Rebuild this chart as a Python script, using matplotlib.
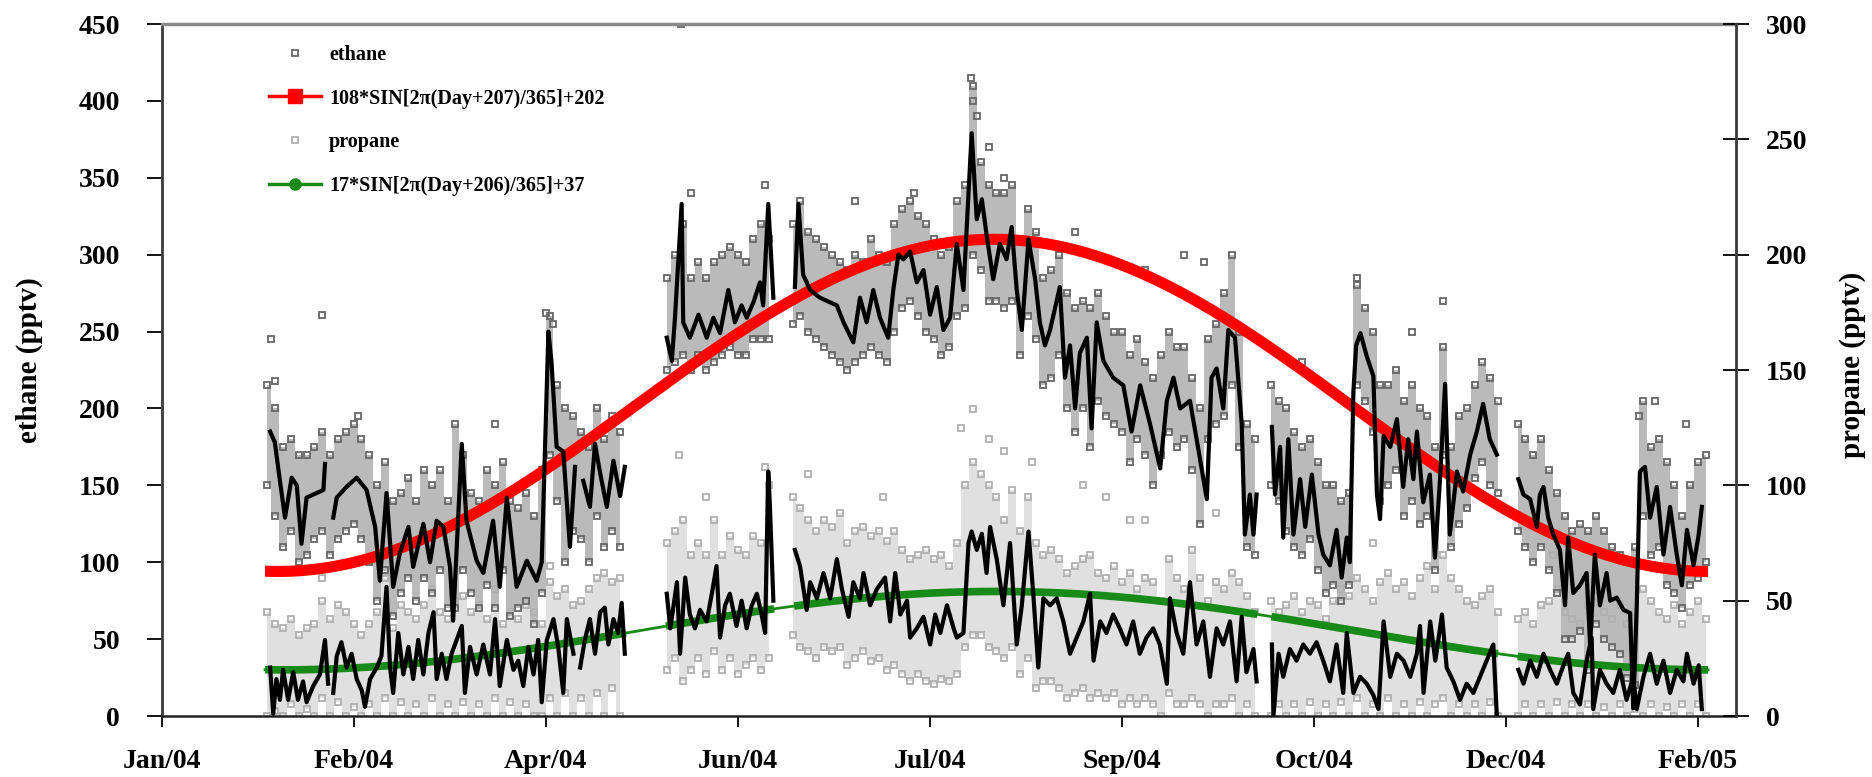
import numpy as np
import matplotlib
matplotlib.use('Agg')
import matplotlib.pyplot as plt
from matplotlib.lines import Line2D

plt.rcParams['font.family'] = 'Liberation Serif'
plt.rcParams['font.weight'] = 'bold'

nan = np.nan

# x = day of year 2004 (1 = Jan 1); Excel serial day = 37986 + day
tick_labels = ['Jan/04', 'Feb/04', 'Apr/04', 'Jun/04', 'Jul/04', 'Sep/04', 'Oct/04', 'Dec/04', 'Feb/05']
tick_start = 11
tick_step = 49
x_max = 412.6
excel_offset = 37986

# measurement periods (first day, last day)
segments = [(37.4, 129.5), (139.7, 167.3), (172.4, 290.6), (294.2, 352.0), (357.0, 405.6)]

# seasonal fits from the legend: amp*SIN[2pi(Day+phase)/365]+mean
eth_fit = (108, 207, 202)
pro_fit = (17, 206, 37)

# ethane running mean (pptv, left axis)
eth_day = [38.7, 39.9, 41.2, 42.5, 44.2, 45.5, 46.7, 48.0, 50.6, 52.3,
           52.7, 53.5, 54.8, 55.7, 58.2, 60.8, 63.3, 65.5, 66.7, 68.4,
           70.1, 71.8, 74.0, 75.2, 77.8, 79.5, 81.2, 82.9, 84.6, 85.4,
           87.6, 88.8, 91.4, 93.1, 95.6, 97.3, 99.1, 101.6, 104.2, 106.7,
           108.0, 109.7, 110.5, 111.8, 113.5, 115.2, 116.5, 117.5, 118.6, 120.3,
           121.6, 122.9, 124.6, 126.3, 128.0, 129.2, 134.0,
           139.9, 141.2, 142.0, 143.7, 144.1, 145.8, 148.0, 150.1, 151.8, 153.5,
           155.6, 157.3, 159.0, 160.3, 162.0, 163.7, 164.5, 165.8, 167.1, 170.0,
           172.6, 173.5, 174.7, 176.5, 179.0, 181.6, 183.3, 185.0, 187.5, 189.2,
           190.9, 192.6, 194.3, 196.4, 197.7, 199.0, 200.3, 202.0, 203.7, 205.4,
           207.1, 208.8, 210.5, 212.2, 213.9, 215.6, 217.7, 219.0, 220.3, 221.5,
           223.2, 224.9, 226.6, 227.9, 229.2, 230.5, 232.2, 233.9, 235.1, 236.4,
           237.7, 240.2, 241.5, 242.8, 244.1, 245.3, 247.1, 248.3, 249.6, 251.3,
           253.8, 256.4, 258.5, 260.7, 263.2, 265.8, 267.5, 269.2, 270.9, 273.4,
           275.5, 277.7, 278.9, 280.2, 281.9, 283.2, 284.9, 286.6, 287.4, 288.7,
           289.6, 290.4, 292.0,
           294.3, 295.1, 296.4, 297.2, 298.5, 299.8, 301.5, 302.8, 304.5, 306.2,
           307.4, 309.1, 310.8, 312.1, 313.4, 314.2, 315.1, 315.8, 316.9, 318.5,
           320.2, 321.1, 321.9, 322.8, 324.5, 326.2, 327.8, 329.1, 330.4, 331.3,
           332.9, 334.6, 335.9, 337.2, 338.5, 339.7, 341.5, 343.1, 344.9, 346.6,
           348.2, 349.9, 351.7, 354.0,
           357.2, 358.5, 360.2, 361.9, 362.7, 363.6, 364.8, 366.1, 367.8, 369.1,
           369.9, 371.2, 372.9, 374.6, 375.5, 376.7, 378.0, 379.7, 380.6, 382.3,
           384.0, 385.7, 386.5, 387.4, 388.2, 389.5, 390.8, 392.5, 394.2, 395.9,
           397.6, 398.9, 400.2, 401.9, 403.2, 404.0]
eth_avg = [185, 178, 153, 129, 155, 150, 112, 142, 145, 147,
           164, nan, 129, 142, 149, 155, 147, 123, 88, 145,
           84, 106, 123, 97, 125, 100, 127, 123, 97, 62,
           177, 127, 101, 93, 127, 84, 142, 84, 101, 88,
           100, 250, 230, 175, 172, 110, 162, nan, 153, 136,
           177, 158, 136, 166, 143, 162, nan,
           246, 231, 259, 333, 256, 246, 261, 246, 259, 249,
           277, 256, 267, 259, 269, 282, 267, 333, 272, nan,
           279, 333, 287, 277, 272, 269, 267, 256, 243, 272,
           256, 277, 259, 246, 277, 300, 297, 302, 282, 290,
           261, 279, 251, 259, 307, 277, 379, 323, 336, 313,
           284, 307, 297, 318, 277, 251, 310, 284, 256, 241,
           251, 279, 220, 241, 200, 236, 246, 187, 256, 231,
           220, 215, 185, 215, 190, 161, 205, 220, 200, 205,
           174, 141, 220, 226, 200, 251, 246, 190, 118, 144,
           118, 144, nan,
           188, 144, 175, 116, 180, 118, 154, 123, 157, 118,
           105, 98, 121, 90, 116, 100, 211, 241, 249, 234,
           221, 144, 128, 182, 175, 193, 149, 180, 154, 185,
           139, 157, 103, 154, 216, 118, 159, 146, 170, 185,
           203, 180, 170, nan,
           154, 144, 141, 123, 144, 149, 129, 118, 108, 72,
           116, 80, 85, 93, 46, 105, 72, 93, 75, 77,
           69, 67, 5, 72, 159, 162, 129, 149, 105, 136,
           105, 85, 121, 98, 118, 136]

# propane running mean (pptv, right axis)
pro_day = [38.7, 39.5, 40.3, 41.2, 42.0, 43.3, 44.6, 45.8, 47.1, 48.0,
           49.7, 51.4, 52.7, 53.5, 54.0, 54.8, 55.7, 56.9, 58.2, 59.5,
           60.8, 62.1, 62.9, 64.2, 65.9, 67.1, 68.4, 69.3, 70.1, 71.4,
           72.7, 74.0, 75.2, 76.5, 77.8, 79.1, 80.4, 81.2, 82.5, 83.7,
           85.0, 86.3, 87.6, 88.4, 89.7, 91.4, 93.1, 94.8, 96.1, 97.3,
           99.1, 100.8, 102.0, 103.3, 104.6, 105.9, 107.1, 108.0, 109.3, 111.0,
           112.2, 113.5, 114.4, 116.1, 117.5, 117.8, 119.0, 120.3, 121.6, 122.9,
           124.1, 125.0, 126.3, 127.5, 128.4, 129.2, 134.0,
           139.9, 140.8, 142.5, 143.3, 144.6, 145.8, 147.1, 148.4, 150.1, 151.4,
           152.6, 153.5, 154.8, 156.0, 157.7, 159.0, 160.3, 161.6, 162.9, 164.1,
           165.0, 165.8, 166.2, 167.1, 170.0,
           172.6, 173.9, 175.6, 176.5, 178.2, 179.9, 181.6, 183.3, 184.6, 186.3,
           187.5, 189.2, 190.1, 191.8, 193.5, 195.6, 196.9, 198.2, 199.5, 201.2,
           202.0, 203.7, 205.4, 207.1, 208.4, 209.7, 211.4, 213.1, 213.9, 215.6,
           216.9, 217.7, 219.0, 220.3, 221.5, 222.4, 224.1, 225.8, 227.5, 229.2,
           230.5, 232.2, 233.5, 234.7, 236.0, 237.7, 239.4, 241.1, 242.8, 244.5,
           246.2, 247.9, 248.8, 250.5, 252.1, 253.8, 255.5, 257.2, 258.9, 260.6,
           262.3, 264.0, 265.7, 267.5, 268.3, 270.0, 271.7, 273.4, 275.1, 276.8,
           278.5, 280.2, 281.9, 283.6, 285.3, 286.6, 287.8, 289.6, 290.4, 292.0,
           294.3, 294.7, 296.0, 297.2, 298.9, 300.6, 302.3, 304.0, 305.7, 307.4,
           309.1, 310.8, 312.5, 313.4, 315.1, 316.8, 318.5, 320.2, 321.5, 322.8,
           324.5, 326.2, 327.9, 329.6, 331.3, 332.1, 333.0, 334.7, 336.0, 337.7,
           338.9, 340.6, 342.3, 344.0, 345.7, 347.4, 349.1, 350.8, 351.7, 354.0,
           357.2, 358.5, 360.2, 361.9, 363.6, 365.3, 367.0, 368.7, 369.9, 371.2,
           372.9, 374.6, 375.9, 376.3, 378.0, 379.7, 381.4, 383.1, 384.8, 386.5,
           387.4, 389.1, 390.8, 392.5, 394.2, 395.9, 397.6, 399.3, 400.2, 401.9,
           403.2, 404.0]
pro_avg = [21, 1, 16, 7, 20, 7, 19, 7, 15, 6,
           13, 18, 33, 14, nan, 10, 26, 32, 21, 27,
           16, 11, 4, 16, 21, 26, 56, 21, 10, 36,
           18, 30, 16, 33, 18, 36, 45, 16, 27, 16,
           27, 33, 39, 10, 30, 18, 31, 18, 42, 13,
           33, 20, 24, 13, 30, 18, 33, 6, 33, 42,
           30, 10, 42, 27, nan, 21, 33, 42, 27, 45,
           47, 31, 42, 36, 49, 27, nan,
           53, 38, 58, 27, 60, 44, 38, 46, 41, 53,
           65, 34, 48, 53, 39, 50, 38, 48, 53, 44,
           36, 106, 92, 50, nan,
           72, 65, 46, 58, 51, 62, 51, 68, 55, 43,
           58, 51, 62, 48, 55, 60, 41, 62, 44, 50,
           34, 38, 43, 31, 44, 36, 48, 38, 34, 36,
           75, 80, 72, 79, 62, 82, 68, 48, 75, 31,
           48, 80, 51, 21, 51, 48, 51, 41, 27, 34,
           41, 53, 24, 41, 36, 44, 38, 31, 41, 27,
           34, 38, 31, 14, 51, 36, 27, 58, 31, 41,
           17, 38, 31, 41, 15, 43, 19, 29, 15, nan,
           31, 0, 27, 17, 29, 24, 31, 27, 32, 24,
           15, 31, 10, 36, 10, 17, 14, 9, 3, 41,
           17, 27, 24, 17, 27, 39, 10, 41, 24, 44,
           21, 15, 7, 14, 10, 17, 24, 31, 0, nan,
           20, 14, 24, 17, 27, 20, 14, 22, 27, 10,
           5, 24, 34, 3, 20, 14, 10, 20, 7, 17,
           3, 17, 27, 14, 24, 10, 20, 15, 27, 14,
           22, 3]

# individual samples: upper and lower edge of each cloud, every 2 days of each run
cloud_runs = [(38, 128), (140, 166), (172, 290), (294, 352), (357, 405)]
eth_hi = [215, 200, 175, 180, 170, 170, 175, 185, 170, 180, 185, 190,
          180, 170, 150, 165, 140, 145, 155, 140, 160, 150, 160, 140,
          190, 170, 145, 140, 160, 150, 165, 140, 135, 145, 130, 160,
          260, 215, 200, 195, 185, 175, 200, 180, 195, 185,
          285, 300, 320, 285, 295, 285, 295, 300, 305, 300, 295, 310, 320, 310,
          320, 335, 315, 310, 305, 300, 295, 290, 300, 295,
          310, 300, 295, 320, 330, 335, 325, 320, 310, 300,
          305, 335, 345, 410, 360, 345, 340, 340, 345, 310,
          330, 315, 285, 290, 300, 275, 265, 270, 265, 275,
          260, 250, 250, 235, 245, 230, 220, 235, 250, 240,
          240, 220, 200, 245, 255, 275, 300, 250, 190, 180,
          215, 205, 200, 185, 175, 180, 165, 150, 150, 140,
          145, 280, 265, 250, 215, 215, 225, 205, 215, 200,
          195, 175, 240, 175, 195, 200, 215, 230, 220, 205,
          190, 180, 170, 180, 160, 145, 130, 120, 125, 120,
          130, 120, 110, 105, 100, 110, 205, 175, 180, 165,
          150, 130, 150, 165, 170]
eth_lo = [150, 130, 110, 120, 100, 105, 115, 120, 105, 115, 120, 125,
          115, 100, 75, 95, 65, 80, 90, 75, 90, 80, 95, 70,
          70, 95, 80, 70, 85, 70, 95, 65, 70, 75, 60, 80,
          170, 140, 100, 120, 115, 100, 130, 110, 120, 110,
          225, 230, 235, 225, 235, 225, 230, 235, 240, 235, 235, 245, 245, 245,
          255, 260, 250, 245, 240, 235, 230, 225, 230, 235,
          240, 235, 230, 250, 265, 270, 260, 250, 245, 235,
          240, 260, 265, 300, 290, 270, 270, 265, 270, 235,
          260, 245, 215, 220, 235, 200, 185, 200, 175, 205,
          195, 190, 185, 165, 180, 170, 150, 170, 185, 175,
          180, 160, 125, 180, 190, 195, 215, 175, 110, 105,
          150, 140, 120, 110, 105, 115, 95, 80, 85, 75,
          85, 215, 205, 185, 140, 150, 160, 130, 140, 125,
          130, 95, 170, 110, 125, 135, 155, 165, 150, 145,
          120, 110, 100, 110, 95, 80, 50, 50, 55, 30,
          60, 50, 45, 40, 25, 20, 130, 105, 110, 85,
          80, 70, 85, 90, 100]
pro_hi = [45, 40, 38, 42, 35, 38, 40, 50, 42, 48, 45, 40,
          35, 40, 45, 60, 38, 48, 45, 42, 48, 55, 45, 42,
          50, 52, 45, 48, 42, 55, 40, 45, 42, 48, 45, 40,
          58, 52, 55, 48, 50, 55, 60, 62, 58, 60,
          75, 80, 85, 70, 75, 70, 85, 70, 78, 72, 70, 78, 75, 100,
          95, 90, 85, 80, 85, 82, 88, 75, 80, 82,
          78, 80, 76, 80, 72, 68, 70, 72, 68, 70,
          65, 75, 100, 110, 105, 100, 95, 85, 98, 80,
          95, 75, 70, 72, 68, 62, 65, 68, 70, 62,
          60, 65, 58, 62, 55, 60, 58, 50, 68, 60,
          55, 72, 60, 50, 58, 55, 62, 58, 52, 45,
          50, 45, 48, 52, 45, 50, 48, 42, 50, 55,
          52, 60, 55, 50, 58, 62, 55, 58, 52, 60,
          65, 55, 70, 60, 55, 50, 48, 52, 55, 45,
          42, 45, 40, 48, 50, 55, 45, 42, 40, 48,
          52, 45, 42, 48, 40, 45, 55, 50, 45, 42,
          48, 40, 45, 50, 42]
pro_lo = [0, 2, 0, 5, 0, 3, 0, 8, 0, 6, 0, 4,
          0, 5, 0, 8, 0, 6, 0, 5, 0, 8, 0, 5,
          0, 6, 0, 5, 0, 8, 0, 6, 0, 5, 0, 0,
          8, 0, 10, 0, 8, 0, 10, 0, 12, 0,
          20, 25, 15, 20, 25, 18, 28, 20, 25, 18, 22, 25, 20, 25,
          35, 30, 28, 25, 30, 28, 30, 22, 25, 28,
          24, 25, 20, 22, 18, 15, 18, 15, 14, 16,
          15, 18, 30, 35, 35, 30, 28, 25, 30, 18,
          25, 12, 15, 15, 12, 8, 10, 12, 8, 10,
          8, 10, 5, 8, 5, 8, 5, 0, 10, 5,
          5, 8, 5, 0, 5, 5, 8, 0, 5, 0,
          0, 5, 0, 5, 0, 6, 0, 5, 0, 6,
          0, 8, 0, 5, 0, 8, 0, 5, 0, 6,
          0, 5, 8, 0, 5, 0, 5, 0, 6, 0,
          0, 5, 0, 5, 0, 6, 0, 5, 0, 5,
          0, 4, 0, 5, 0, 3, 0, 5, 0, 4,
          0, 5, 0, 5, 0]

# isolated high samples
eth_out_day = [39, 40, 52, 61, 96, 109, 111, 143.5, 146, 165,
               188, 203, 217.5, 218, 219, 222, 226, 244, 262, 272,
               277, 302, 316, 330, 338, 388, 392, 400]
eth_out_val = [245, 218, 261, 195, 190, 262, 255, 450, 340, 345,
               335, 340, 415, 400, 390, 370, 350, 315, 290, 300,
               295, 230, 285, 250, 270, 195, 205, 190]
pro_out_day = [52, 68, 110, 143, 150, 165, 176, 195, 215, 218,
               222, 226, 233, 246, 252, 258, 262, 280, 320, 340,
               366, 390, 400]
pro_out_val = [60, 62, 65, 113, 95, 108, 105, 95, 125, 133,
               120, 115, 110, 100, 95, 85, 85, 88, 75, 82,
               70, 65, 62]

eth_color = '#666666'
pro_color = '#b0b0b0'
red = '#ff0000'
green = '#178a17'


def sine_fit(day, amp, phase, mean):
    serial = excel_offset + day
    return amp * np.sin(2 * np.pi * (serial + phase) / 365) + mean


fig = plt.figure(figsize=(18.72, 7.77), dpi=100)
ax = fig.add_axes([0.0863, 0.0785, 0.8408, 0.8906])
ax2 = ax.twinx()
# propane is drawn in ax with the right-axis scale so both black lines sit on top
pro_tr = ax2.transData

sq = dict(ls='none', marker='s', ms=5, mfc='none', mew=1.3)

start = 0
for a, b in cloud_runs:
    d = np.arange(a, b + 1, 2)
    n = len(d)
    sl = slice(start, start + n)
    start += n
    ax.fill_between(d, pro_lo[sl], pro_hi[sl], step='mid', color='#e0e0e0', lw=0,
                    zorder=0.4, transform=pro_tr)
    ax.fill_between(d, eth_lo[sl], eth_hi[sl], step='mid', color='#bababa', lw=0, zorder=0.5)
    ax.plot(d, pro_hi[sl], mec=pro_color, zorder=0.8, transform=pro_tr, **sq)
    ax.plot(d, pro_lo[sl], mec=pro_color, zorder=0.8, transform=pro_tr, **sq)
    ax.plot(d, eth_hi[sl], mec=eth_color, zorder=1, **sq)
    ax.plot(d, eth_lo[sl], mec=eth_color, zorder=1, **sq)

ax.plot(eth_out_day, eth_out_val, mec=eth_color, zorder=1, **sq)
ax.plot(pro_out_day, pro_out_val, mec=pro_color, zorder=0.8, transform=pro_tr, **sq)

# seasonal fits
full = np.linspace(segments[0][0], segments[-1][1], 800)
ax.plot(full, sine_fit(full, *eth_fit), color=red, lw=8, solid_capstyle='butt', zorder=2)
ax.plot(full, sine_fit(full, *pro_fit), color=green, lw=2, zorder=2, transform=pro_tr)
for a, b in segments:
    d = np.linspace(a, b, 200)
    ax.plot(d, sine_fit(d, *pro_fit), color=green, lw=5.5, solid_capstyle='butt',
            zorder=2, transform=pro_tr)

# running means
ax.plot(pro_day, pro_avg, color='black', lw=3, zorder=3, transform=pro_tr)
ax.plot(eth_day, eth_avg, color='black', lw=3, zorder=3)

ax.set_xlim(tick_start, x_max)
ax.set_ylim(0, 450)
ax2.set_ylim(0, 300)
ax.set_xticks([tick_start + tick_step * k for k in range(len(tick_labels))])
ax.set_xticklabels(tick_labels)
ax.set_yticks(np.arange(0, 451, 50))
ax2.set_yticks(np.arange(0, 301, 50))

ax.tick_params(axis='x', direction='out', length=8, width=1.3, pad=16, labelsize=20)
ax.tick_params(axis='y', direction='out', length=10.8, width=1.3, pad=19, labelsize=20)
ax2.tick_params(axis='y', direction='inout', length=19.4, width=1.3, pad=12, labelsize=20)

ax.set_ylabel('ethane (pptv)', fontsize=21, fontweight='bold', va='center')
ax.yaxis.set_label_coords(-0.0842, 0.514)
ax2.set_ylabel('propane (pptv)', fontsize=21, fontweight='bold', va='center', rotation=90)
ax2.yaxis.set_label_coords(1.074, 0.507)

for s in ['top', 'left', 'bottom']:
    ax2.spines[s].set_visible(False)
ax.spines['right'].set_visible(False)
ax.spines['top'].set_color('#8a8a8a')
ax.spines['top'].set_linewidth(2.5)
ax.spines['left'].set_color('#3a3a3a')
ax.spines['left'].set_linewidth(2)
ax.spines['bottom'].set_color('#222222')
ax.spines['bottom'].set_linewidth(1.8)
ax2.spines['right'].set_color('#3a3a3a')
ax2.spines['right'].set_linewidth(2)

handles = [
    Line2D([], [], ls='none', marker='s', ms=5, mfc='none', mec=eth_color, mew=1.3),
    Line2D([], [], color=red, lw=2.5, marker='s', ms=10),
    Line2D([], [], ls='none', marker='s', ms=5, mfc='none', mec=pro_color, mew=1.3),
    Line2D([], [], color=green, lw=2.5, marker='o', ms=8),
]
labels = ['ethane',
          '%d*SIN[2π(Day+%d)/365]+%d' % eth_fit,
          'propane',
          '%d*SIN[2π(Day+%d)/365]+%d' % pro_fit]
ax2.legend(handles, labels, loc='upper left', bbox_to_anchor=(0.068, 0.97),
           frameon=False, fontsize=14.5, handlelength=2.6, handletextpad=0.4,
           labelspacing=1.18, borderpad=0, borderaxespad=0)

fig.savefig('out.png', dpi=100)
